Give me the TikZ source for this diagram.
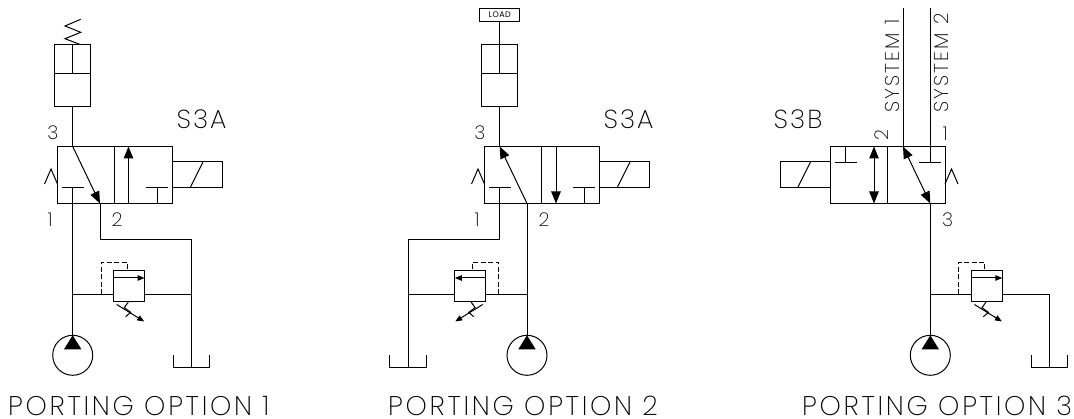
\documentclass[tikz,border=0pt]{standalone}
\usepackage{fontspec}
\setmainfont{Poppins ExtraLight}[LetterSpace=8]
\newfontfamily\loadfont{Poppins}[LetterSpace=6]
\usetikzlibrary{arrows.meta}
\tikzset{
  x=1pt,y=-1pt,
  pipe/.style={line width=1pt,line join=miter,black},
  boxn/.style={draw,line width=1pt,inner sep=0pt,outer sep=0pt,fill=none},
  pilot/.style={pipe,dash pattern=on 5pt off 2.5pt},
  tipone/.style={-{Triangle[length=12pt,width=9.5pt]}},
  tiptwo/.style={{Triangle[length=12pt,width=9.5pt]}-{Triangle[length=12pt,width=9.5pt]}},
  tipsmall/.style={-{Triangle[length=7pt,width=5.5pt]}},
  lab/.style={font=\fontsize{19}{19}\selectfont,inner sep=0pt,anchor=base},
  tag/.style={font=\fontsize{26}{26}\selectfont,inner sep=0pt,anchor=base},
  captext/.style={font=\fontsize{27}{27}\selectfont\addfontfeature{LetterSpace=10},inner sep=0pt,anchor=base west},
  sys/.style={font=\fontsize{20}{20}\selectfont\addfontfeature{LetterSpace=11},inner sep=0pt,rotate=90,anchor=base west},
  loadtext/.style={font=\loadfont\fontsize{8}{8}\selectfont,inner sep=0pt},
  pumpc/.style={circle,draw,line width=1pt,minimum size=40pt,inner sep=0pt,outer sep=0pt},
  rect/.style 2 args={boxn,minimum width=#1 pt,minimum height=#2 pt}
}
\newcommand{\pumpat}[2]{%
  \node[pumpc] (#1) at (#2,355.3) {};
  \fill (#1.north) -- ++(8.7,14) -- ++(-17.4,0) -- cycle;
}
\newcommand{\tankat}[2]{%
  \coordinate (#1l) at (#2-18.2,355.5);
  \coordinate (#1r) at (#2+18.2,355.5);
  \coordinate (#1b) at (#2,367.3);
  \draw[pipe] (#1l) |- (#1b) -| (#1r);
}
\newcommand{\reliefat}[5]{%
  \node[rect={31}{31}] (#1) at (#2,285.9) {};
  \coordinate (#1ps) at (#2-15.5*#3,278);
  \coordinate (#1pe) at (#2+15.5*#3,278);
  \draw[pipe,tipsmall] (#1ps) -- (#1pe);
  \coordinate (#1da) at (#4,294.3);
  \coordinate (#1db) at (#4,262.3);
  \coordinate (#1dc) at (#5,262.3);
  \coordinate (#1dd) at (#5,270.4);
  \draw[pilot] (#1da) -- (#1db) -- (#1dc) -- (#1dd);
  \coordinate (#1as) at (#2-12.4*#3,304.5);
  \coordinate (#1ae) at (#2+15.1*#3,321.5);
  \draw[pipe,tipsmall] (#1as) -- (#1ae);
  \draw[pipe] (#2-.8*#3,302) -- (#2-4.8*#3,307.7) -- (#2+1.6*#3,312.3) -- (#2-3.4*#3,316.7);
}
\newcommand{\solenoid}[3]{%
  \node[rect={50}{26}] (#1) at (#2,175) {};
  \draw[pipe] (#2-#3*7.5,188) -- (#2+#3*5.5,162);
}
\newcommand{\cylinder}[2]{%
  \node[rect={36}{62}] (#1) at (#2,75.5) {};
  \coordinate (#1pl) at (#2-18,73.7);
  \coordinate (#1pr) at (#2+18,73.7);
  \draw[pipe] (#1pl) -- (#1pr);
}
\begin{document}
\begin{tikzpicture}
\useasboundingbox (0,0) rectangle (1074,419);
% ---------- Option 1
\cylinder{ca}{72.7}
\coordinate (sa0) at (80.7,19.3);
\coordinate (sa1) at (65,26);
\coordinate (sa2) at (80.7,32.3);
\coordinate (sa3) at (65,38.7);
\coordinate (sa4) at (80.7,44.7);
\draw[pipe] (sa0) -- (sa1) -- (sa2) -- (sa3) -- (sa4);
\coordinate (ra1) at (72.7,73.7);
\draw[pipe] (ca.north) -- (ra1);
\node[rect={115}{57}] (va) at (115,175) {};
\draw[pipe] (ca.south) -- (72.7,146.5);
\draw[pipe] (114.5,146.5) -- (114.5,203.5);
\coordinate (va3) at (72.7,146.5);
\coordinate (vb2) at (100,203.5);
\draw[pipe,tipone] (va3) -- (vb2);
\draw[pipe,tipone] (128.5,203.5) -- (128.5,146.5);
\draw[pipe] (62,187.5) -- (84,187.5);
\draw[pipe] (146,187.5) -- (168,187.5);
\draw[pipe] (157,187.5) -- (157,203.5);
\draw[pipe] (44.5,184) -- (51,169) -- (57.5,184);
\solenoid{sola}{197.5}{1}
\pumpat{pa}{72.7}
\tankat{ta}{191.5}
\reliefat{ra}{129.1}{1}{101}{127}
\coordinate (ja) at (72.7,294.3);
\coordinate (jb) at (191.5,294.3);
\draw[pipe] (72.7,187.5) -- (pa.north);
\draw[pipe] (ja) -- (ra.west |- ja);
\draw[pipe] (ra.east |- ja) -- (jb);
\coordinate (ka) at (100,239.7);
\coordinate (kb) at (191.5,239.7);
\draw[pipe] (vb2) -- (ka) -- (kb) -- (tab);
\node[lab] (l3a) at (53,140) {3};
\node[lab] (l1a) at (50,227) {1};
\node[lab] (l2a) at (117,227) {2};
\node[tag] (s3a) at (201.5,129) {S3A};
\node[captext] (capa) at (8,416) {PORTING OPTION 1};
% ---------- Option 2
\node[rect={40.5}{13}] (load) at (499.7,15) {};
\node[loadtext] (loadt) at (499.7,15) {LOAD};
\cylinder{cb}{499.7}
\draw[pipe] (load.south) -- (499.7,73.7);
\node[rect={115}{57}] (vc) at (542,175) {};
\coordinate (vc3) at (499.7,146.5);
\coordinate (vc2) at (527,203.5);
\draw[pipe] (cb.south) -- (vc3);
\draw[pipe,tipone] (vc2) -- (vc3);
\draw[pipe] (541.5,146.5) -- (541.5,203.5);
\draw[pipe,tipone] (556,146.5) -- (556,203.5);
\draw[pipe] (489,187.5) -- (511,187.5);
\draw[pipe] (573,187.5) -- (595,187.5);
\draw[pipe] (584,187.5) -- (584,203.5);
\draw[pipe] (471.5,184) -- (478,169) -- (484.5,184);
\solenoid{solc}{624.5}{1}
\pumpat{pc}{527}
\tankat{tc}{408}
\reliefat{rc}{470.3}{-1}{498.7}{472.5}
\coordinate (jc) at (408,294.3);
\coordinate (jd) at (527,294.3);
\draw[pipe] (jc) -- (rc.west |- jc);
\draw[pipe] (rc.east |- jc) -- (jd);
\draw[pipe] (vc2) -- (pc.north);
\coordinate (kc) at (499.7,239.7);
\coordinate (kd) at (408,239.7);
\draw[pipe] (499.7,187.5) -- (kc) -- (kd) -- (tcb);
\node[lab] (l3c) at (480,140) {3};
\node[lab] (l1c) at (477,227) {1};
\node[lab] (l2c) at (544,227) {2};
\node[tag] (s3c) at (628.5,129) {S3A};
\node[captext] (capc) at (388,416) {PORTING OPTION 2};
% ---------- Option 3
\node[rect={115}{57}] (ve) at (887.5,175) {};
\draw[pipe] (887.5,146.5) -- (887.5,203.5);
\coordinate (ve2) at (903,146.5);
\coordinate (ve3) at (930.3,203.5);
\coordinate (se1) at (903,8.5);
\coordinate (se2) at (930.3,8.5);
\draw[pipe] (se1) -- (ve2);
\draw[pipe] (se2) -- (930.3,163);
\draw[pipe,tiptwo] (ve2) -- (ve3);
\draw[pipe,tiptwo] (874,146.5) -- (874,203.5);
\draw[pipe] (834.5,163) -- (856.5,163);
\draw[pipe] (845.5,146.5) -- (845.5,163);
\draw[pipe] (919.3,163) -- (941.3,163);
\draw[pipe] (945,184) -- (951.5,169) -- (958,184);
\solenoid{sole}{805}{1}
\pumpat{pe}{930.3}
\tankat{te}{1049.5}
\reliefat{re}{986.8}{1}{958.5}{984.5}
\coordinate (je) at (930.3,294.3);
\coordinate (jf) at (1049.5,294.3);
\draw[pipe] (je) -- (re.west |- je);
\draw[pipe] (re.east |- je) -- (jf) -- (teb);
\draw[pipe] (ve3) -- (pe.north);
\node[lab,rotate=90] (l2e) at (888,135) {2};
\node[lab] (l1e) at (945.3,141) {1};
\node[lab] (l3e) at (947.7,227) {3};
\node[tag] (s3e) at (798,129) {S3B};
\node[sys] (sysa) at (899,113) {SYSTEM 1};
\node[sys] (sysb) at (948,113) {SYSTEM 2};
\node[captext] (cape) at (802,416) {PORTING OPTION 3};
\end{tikzpicture}
\end{document}
